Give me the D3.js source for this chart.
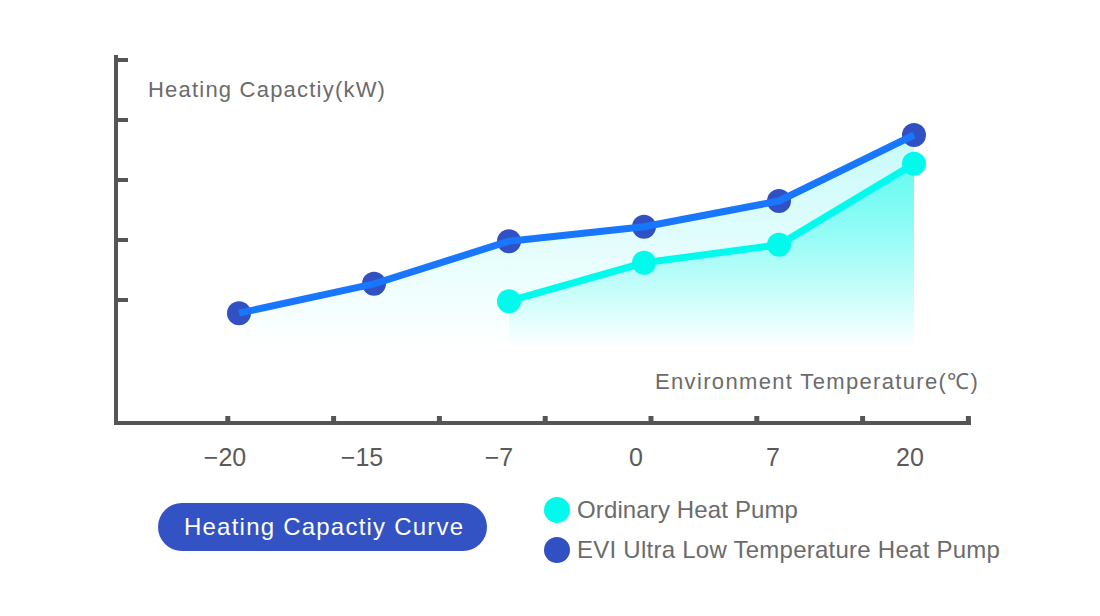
<!DOCTYPE html>
<html>
<head>
<meta charset="utf-8">
<script src="https://cdn.jsdelivr.net/npm/d3@7"></script>
<style>
  html, body { margin: 0; padding: 0; background: #ffffff; }
  svg { display: block; }
  text { font-family: "Liberation Sans", Arial, sans-serif; font-weight: 400; }
</style>
</head>
<body>
<svg id="chart" width="1100" height="616"></svg>
<script>
// ---- data ----
const categories = ["\u221220", "\u221215", "\u22127", "0", "7", "20"];
const eviValues = [0.78, 1.27, 1.98, 2.22, 2.65, 3.75];
const ordinaryValues = [null, null, 0.98, 1.62, 1.92, 3.27];
const yTickValues = [1, 2, 3, 4, 5];
const seriesNames = ["Ordinary Heat Pump", "EVI Ultra Low Temperature Heat Pump"];
const yTitle = "Heating Capactiy(kW)";
const xTitle = "Environment Temperature(\u2103)";
const buttonLabel = "Heating Capactiy Curve";

// ---- setup ----
const svg = d3.select("#chart");
const axisColor = "#555555";
const textColor = "#6b6b6b";
const eviDot = "#3150c2", eviLine = "#1976ff";
const ordColor = "#00fbec";

const xLabel = d3.scalePoint().domain(categories).range([225, 910]);
const x = d3.scalePoint().domain(categories).range([239, 914]);
const y = d3.scaleLinear().domain([0, 5]).range([360, 60]);
const areaBase = 0.2;
const tickScale = d3.scaleLinear().domain([0, 8]).range([122, 968.4]);

// widen text (letter-spacing) to match a target width
function fitWidth(sel, target) {
  sel.each(function() {
    const n = this.textContent.length;
    const w = this.getComputedTextLength();
    const ls = (target - w) / Math.max(1, n - 1);
    d3.select(this).attr("letter-spacing", ls.toFixed(2));
  });
}

const defs = svg.append("defs");
function grad(id, color, o0, o1) {
  const g = defs.append("linearGradient").attr("id", id)
    .attr("gradientUnits", "userSpaceOnUse")
    .attr("x1", 0).attr("x2", 0).attr("y1", y(3.75)).attr("y2", y(areaBase));
  g.append("stop").attr("offset", 0).attr("stop-color", color).attr("stop-opacity", o0);
  g.append("stop").attr("offset", 1).attr("stop-color", color).attr("stop-opacity", o1);
}
grad("gEvi", "#5cf3f0", 0.35, 0.0);
grad("gOrd", "#3cfbee", 0.85, 0.0);

const eviData = categories.map((c, i) => ({c, v: eviValues[i]}));
const ordData = categories.map((c, i) => ({c, v: ordinaryValues[i]})).filter(d => d.v != null);

const area = d3.area().x(d => x(d.c)).y0(y(areaBase)).y1(d => y(d.v));
const line = d3.line().x(d => x(d.c)).y(d => y(d.v));

svg.append("path").datum(eviData).attr("d", area).attr("fill", "url(#gEvi)");
svg.append("path").datum(ordData).attr("d", area).attr("fill", "url(#gOrd)");

// ordinary series
svg.append("path").datum(ordData).attr("d", line)
  .attr("fill", "none").attr("stroke", ordColor).attr("stroke-width", 7);
svg.selectAll("circle.ord").data(ordData).enter().append("circle")
  .attr("cx", d => x(d.c)).attr("cy", d => y(d.v)).attr("r", 12).attr("fill", ordColor);

// evi series: dots under line
svg.selectAll("circle.evi").data(eviData).enter().append("circle")
  .attr("cx", d => x(d.c)).attr("cy", d => y(d.v)).attr("r", 12).attr("fill", eviDot);
svg.append("path").datum(eviData).attr("d", line)
  .attr("fill", "none").attr("stroke", eviLine).attr("stroke-width", 7)
  .attr("stroke-linejoin", "round");

// ---- axes ----
const axisX = 116, axisY = 423;
svg.append("line").attr("x1", axisX).attr("x2", axisX).attr("y1", 55).attr("y2", axisY + 2)
  .attr("stroke", axisColor).attr("stroke-width", 4);
svg.append("line").attr("x1", axisX - 2).attr("x2", 971).attr("y1", axisY).attr("y2", axisY)
  .attr("stroke", axisColor).attr("stroke-width", 4);
svg.selectAll("line.ytick").data(yTickValues).enter().append("line")
  .attr("x1", axisX).attr("x2", 128).attr("y1", d => y(d)).attr("y2", d => y(d))
  .attr("stroke", axisColor).attr("stroke-width", 4);
svg.selectAll("line.xtick").data(d3.range(1, 9)).enter().append("line")
  .attr("x1", d => tickScale(d)).attr("x2", d => tickScale(d))
  .attr("y1", axisY).attr("y2", axisY - 7)
  .attr("stroke", axisColor).attr("stroke-width", 5);

// x labels
svg.selectAll("text.xl").data(categories).enter().append("text")
  .attr("x", d => xLabel(d)).attr("y", 466).attr("text-anchor", "middle")
  .attr("font-size", 25).attr("fill", "#5a5a5a").text(d => d);

// titles
svg.append("text").attr("x", 148).attr("y", 97).attr("font-size", 22)
  .attr("fill", textColor).text(yTitle).call(fitWidth, 237);
svg.append("text").attr("x", 655).attr("y", 389)
  .attr("font-size", 22).attr("fill", textColor).text(xTitle).call(fitWidth, 323);

// button
svg.append("rect").attr("x", 158).attr("y", 503).attr("width", 329).attr("height", 48)
  .attr("rx", 24).attr("fill", "#3353c4");
svg.append("text").attr("x", 184).attr("y", 535)
  .attr("font-size", 24).attr("fill", "#ffffff").text(buttonLabel).call(fitWidth, 279);

// legend
const legColors = [ordColor, eviDot];
const legTargets = [221, 423];
const leg = svg.selectAll("g.leg").data(seriesNames).enter().append("g")
  .attr("transform", (d, i) => `translate(557, ${510 + i * 40})`);
leg.append("circle").attr("r", 13).attr("fill", (d, i) => legColors[i]);
leg.append("text").attr("x", 20).attr("y", 8).attr("font-size", 24)
  .attr("fill", textColor).text(d => d)
  .each(function(d, i) { fitWidth(d3.select(this), legTargets[i]); });
</script>
</body>
</html>
